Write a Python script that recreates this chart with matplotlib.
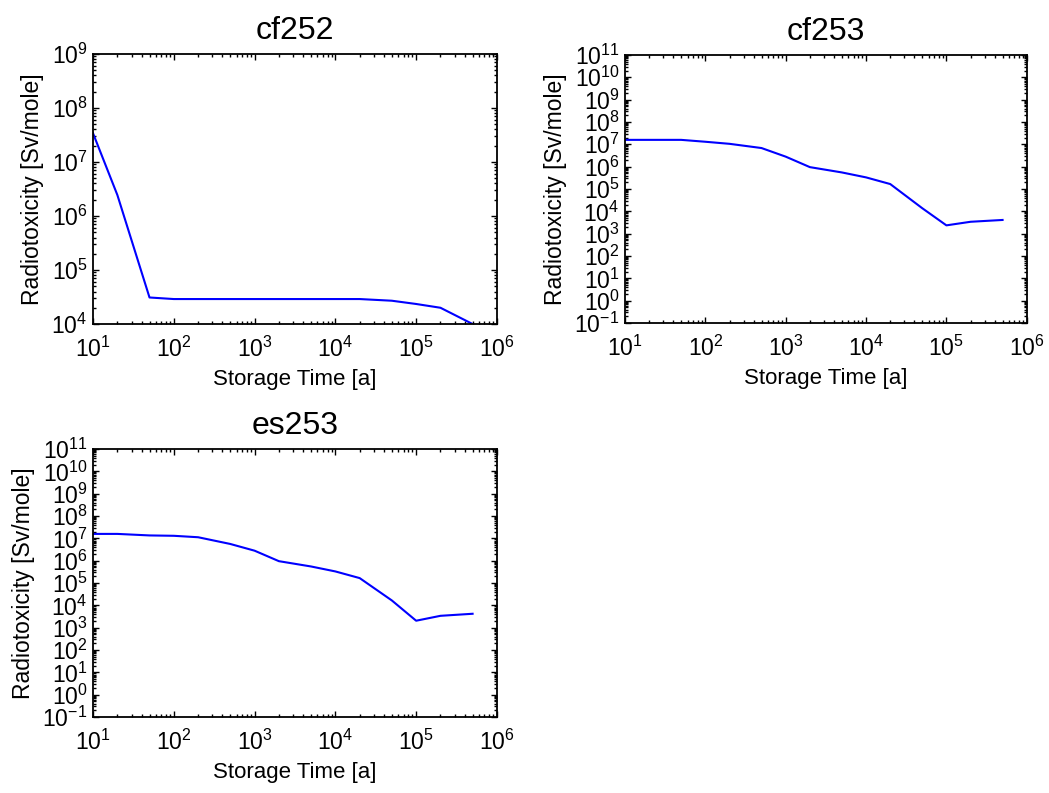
import numpy as np
import matplotlib
matplotlib.use("Agg")
import matplotlib.pyplot as plt
from matplotlib.ticker import LogLocator, NullFormatter

plt.rcParams["font.family"] = ["Liberation Sans", "DejaVu Sans"]
plt.rcParams["mathtext.fontset"] = "custom"
plt.rcParams["mathtext.rm"] = "Liberation Sans"
plt.rcParams["axes.unicode_minus"] = False

# storage times [a]
storage_time = [10, 20, 50, 100, 200, 500, 1e3, 2e3, 5e3, 1e4, 2e4, 5e4, 1e5, 2e5, 5e5]

# radiotoxicity [Sv/mole]
cf252_tox = [3.4e7, 2.45e6, 3.1e4, 2.9e4, 2.9e4, 2.9e4, 2.9e4, 2.9e4, 2.9e4, 2.9e4,
             2.9e4, 2.7e4, 2.35e4, 2.0e4, 1.0e4]
cf253_tox = [1.58e7, 1.58e7, 1.58e7, 1.3e7, 1.05e7, 6.8e6, 2.8e6, 9.5e5, 5.5e5, 3.3e5,
             1.66e5, 1.38e4, 2.35e3, 3.4e3, 4.1e3]
es253_tox = [1.58e7, 1.58e7, 1.35e7, 1.3e7, 1.12e7, 5.6e6, 2.8e6, 9.5e5, 5.5e5, 3.3e5,
             1.66e5, 1.66e4, 2.05e3, 3.4e3, 4.2e3]

panels = [
    ("cf252", cf252_tox, (1e4, 1e9), [0.0887, 0.5914, 0.385, 0.3405]),
    ("cf253", cf253_tox, (1e-1, 1e11), [0.5958, 0.5927, 0.383, 0.338]),
    ("es253", es253_tox, (1e-1, 1e11), [0.0887, 0.0958, 0.385, 0.338]),
]

fig = plt.figure(figsize=(10.49, 7.93), dpi=100)

for name, values, ylim, pos in panels:
    ax = fig.add_axes(pos)
    ax.plot(storage_time, values, color="#0000ff", linewidth=1.5)
    ax.set_xscale("log")
    ax.set_yscale("log")
    ax.set_xlim(1e1, 1e6)
    ax.set_ylim(*ylim)
    for axis in (ax.xaxis, ax.yaxis):
        axis.set_major_locator(LogLocator(base=10, numticks=30))
        axis.set_minor_locator(LogLocator(base=10, subs=np.arange(2, 10), numticks=100))
        axis.set_minor_formatter(NullFormatter())
    ax.tick_params(which="both", direction="in", top=True, right=True, labelsize=16.5, width=1.0)
    ax.tick_params(which="major", length=4.5)
    ax.tick_params(which="minor", length=2.5)
    ax.tick_params(axis="x", pad=9)
    ax.tick_params(axis="y", pad=4)
    for spine in ax.spines.values():
        spine.set_linewidth(1.3)
    ax.set_title(name, fontsize=23, pad=11)
    ax.set_xlabel("Storage Time [a]", fontsize=16, labelpad=5)
    ax.set_ylabel("Radiotoxicity [Sv/mole]", fontsize=16.5, labelpad=5)

fig.savefig("out.png", dpi=100)
